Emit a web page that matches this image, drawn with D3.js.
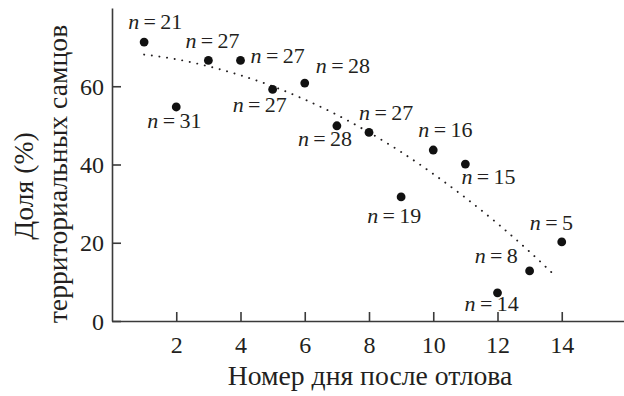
<!DOCTYPE html>
<html>
<head>
<meta charset="utf-8">
<script src="https://cdn.jsdelivr.net/npm/d3@7/dist/d3.min.js"></script>
<style>
  html, body { margin: 0; padding: 0; background: #fff; }
</style>
</head>
<body>
<svg id="chart" width="624" height="396"></svg>
<script>
// Day after capture and share of territorial males (%), with sample size per day
const days = [1, 2, 3, 4, 5, 6, 7, 8, 9, 10, 11, 12, 13, 14];
const share = [71.3, 54.7, 66.6, 66.6, 59.2, 60.8, 49.9, 48.2, 31.7, 43.7, 40.1, 7.2, 12.8, 20.2];
const sampleSize = [21, 31, 27, 27, 27, 28, 28, 27, 19, 16, 15, 14, 8, 5];

// Trend curve (dotted)
const trendDays = [1, 2, 3, 4, 5, 6, 7, 8, 9, 10, 11, 12, 13, 13.8];
const trendShare = [68.1, 66.9, 65.1, 62.8, 60.0, 56.6, 52.7, 48.2, 43.2, 37.6, 31.5, 24.9, 17.7, 11.5];

const xTicks = [2, 4, 6, 8, 10, 12, 14];
const yTicks = [0, 20, 40, 60];

// Placement of each "n = …" label relative to its point
const labelOffsets = [
  [-16, -13], [-29, 21], [-23, -12], [10, 3], [-40, 23], [11, -10], [-39, 20],
  [-10, -12], [-34, 26], [-15, -13], [-4, 20], [-33, 18], [-55, -8], [-32, -12]
];

const FONT = "Liberation Serif";
const INK = "#231f20";
const svg = d3.select("#chart");
const x = d3.scaleLinear().domain([0, 16]).range([112, 626]);
const y = d3.scaleLinear().domain([0, 80]).range([321, 8]);
const axisColor = "#3a3a3a";

// Axes: ticks point into the plot
const xAxis = svg.append("g").attr("transform", `translate(0,${y(0)})`)
  .call(d3.axisBottom(x).tickValues(xTicks).tickSizeInner(-9).tickSizeOuter(0));
const yAxis = svg.append("g").attr("transform", `translate(${x(0)},0)`)
  .call(d3.axisLeft(y).tickValues(yTicks).tickSizeInner(-9).tickSizeOuter(0));

[xAxis, yAxis].forEach(g => {
  g.attr("font-family", FONT).attr("font-size", 24);
  g.select(".domain").attr("stroke", axisColor).attr("stroke-width", 1.6);
  g.selectAll(".tick line").attr("stroke", axisColor).attr("stroke-width", 1.6);
  g.selectAll(".tick text").attr("fill", INK).attr("font-family", FONT).attr("font-size", 24);
});
xAxis.selectAll(".tick text").attr("y", 32).attr("dy", 0);
yAxis.selectAll(".tick text").attr("x", -8).attr("dy", "0.34em");

// Dotted trend curve
const trend = trendDays.map((d, i) => [d, trendShare[i]]);
svg.append("path")
  .datum(trend)
  .attr("fill", "none")
  .attr("stroke", INK)
  .attr("stroke-width", 1.9)
  .attr("stroke-linecap", "round")
  .attr("stroke-dasharray", "0.1 7.6")
  .attr("d", d3.line().x(d => x(d[0])).y(d => y(d[1])).curve(d3.curveMonotoneX));

// Points
const pts = days.map((d, i) => ({ day: d, v: share[i], n: sampleSize[i], off: labelOffsets[i] }));
svg.append("g").selectAll("circle").data(pts).join("circle")
  .attr("cx", d => x(d.day)).attr("cy", d => y(d.v)).attr("r", 4.4)
  .attr("fill", "#111");

// Sample size labels
const lab = svg.append("g").selectAll("text").data(pts).join("text")
  .attr("x", d => x(d.day) + d.off[0])
  .attr("y", d => y(d.v) + d.off[1])
  .attr("font-family", FONT)
  .attr("font-size", 22)
  .attr("fill", INK);
lab.append("tspan").attr("font-style", "italic").attr("font-family", FONT).text("n");
lab.append("tspan").attr("font-family", FONT).text(d => "\u2009=\u2009" + d.n);

// Axis titles
const title = (tx, ty, rot, str) => svg.append("text")
  .attr("transform", `translate(${tx},${ty}) rotate(${rot})`)
  .attr("text-anchor", "middle")
  .attr("font-family", FONT)
  .attr("font-size", 27.7)
  .attr("fill", INK)
  .text(str);

title(370, 385, 0, "Номер дня после отлова");
title(33, 186, -90, "Доля (%)");
title(67, 174, -90, "территориальных самцов");
</script>
</body>
</html>
